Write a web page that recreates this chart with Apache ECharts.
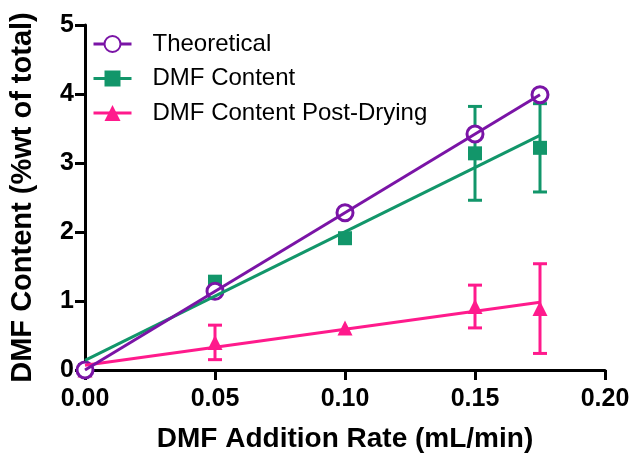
<!DOCTYPE html>
<html><head><meta charset="utf-8">
<script src="https://cdn.jsdelivr.net/npm/echarts@6/dist/echarts.min.js"></script>
<style>html,body{margin:0;padding:0;background:#fff}#c{width:635px;height:458px}</style>
</head><body><div id="c"></div>
<script>
var rates = [0, 0.05, 0.10, 0.15, 0.175];
var theoretical = [0, 1.14, 2.28, 3.42, 3.99];
var dmfContent = [0, 1.28, 1.91, 3.14, 3.22];
var dmfContentErr = [0, 0, 0, 0.68, 0.64];
var postDrying = [0, 0.40, 0.61, 0.92, 0.89];
var postDryingErr = [0, 0.25, 0, 0.31, 0.65];
var xTicks = [0, 0.05, 0.10, 0.15, 0.20];
var yTicks = [0, 1, 2, 3, 4, 5];

var names = ['Theoretical', 'DMF Content', 'DMF Content Post-Drying'];
var colors = ['#7A14A6', '#12966A', '#FF1A8C'];

function fit(xs, ys) {
  var n = xs.length, mx = 0, my = 0;
  for (var i = 0; i < n; i++) { mx += xs[i]; my += ys[i]; }
  mx /= n; my /= n;
  var sxy = 0, sxx = 0;
  for (var j = 0; j < n; j++) { sxy += (xs[j]-mx)*(ys[j]-my); sxx += (xs[j]-mx)*(xs[j]-mx); }
  var b = sxy / sxx, a = my - b*mx;
  var x0 = Math.min.apply(null, xs), x1 = Math.max.apply(null, xs);
  return [[x0, a + b*x0], [x1, a + b*x1]];
}
function pts(ys) { return rates.map(function (x, i) { return [x, ys[i]]; }); }
function errData(ys, es) {
  var out = [];
  rates.forEach(function (x, i) { if (es[i] > 0) out.push([x, ys[i]-es[i], ys[i]+es[i]]); });
  return out;
}
function errSeries(data, color) {
  return {
    type: 'custom', silent: true, z: 2, clip: false,
    data: data,
    renderItem: function (params, api) {
      var lo = api.coord([api.value(0), api.value(1)]);
      var hi = api.coord([api.value(0), api.value(2)]);
      var w = 7;
      var st = { stroke: color, lineWidth: 3 };
      return { type: 'group', children: [
        { type: 'line', shape: { x1: lo[0], y1: lo[1], x2: hi[0], y2: hi[1] }, style: st },
        { type: 'line', shape: { x1: lo[0]-w, y1: lo[1], x2: lo[0]+w, y2: lo[1] }, style: st },
        { type: 'line', shape: { x1: hi[0]-w, y1: hi[1], x2: hi[0]+w, y2: hi[1] }, style: st }
      ]};
    }
  };
}
function fitSeries(xs, ys, color, z) {
  return { type: 'line', data: fit(xs, ys), symbol: 'none', silent: true, z: z,
    lineStyle: { color: color, width: 3 } };
}
function pointSeries(name, ys, color, symbol, size, z, hollow) {
  return {
    name: name, type: 'line', data: pts(ys), symbol: symbol, symbolSize: size, z: z,
    showAllSymbol: true, clip: false,
    lineStyle: { color: color, width: 3, opacity: 0 },
    itemStyle: hollow ? { color: '#fff', borderColor: color, borderWidth: 3 } : { color: color, borderWidth: 0 }
  };
}

var FONT = 'Liberation Sans, Arial, sans-serif';
var axisFont = { fontFamily: FONT, fontWeight: 'bold', fontSize: 25, color: '#000' };
var chart = echarts.init(document.getElementById('c'));
chart.setOption({
  animation: false,
  backgroundColor: '#fff',
  grid: { left: 83, right: 30, top: 25, bottom: 84, containLabel: false },
  legend: {
    data: names, left: 87, top: 27, orient: 'vertical',
    itemWidth: 38, itemHeight: 20, itemGap: 10.5,
    lineStyle: { opacity: 1, width: 3 },
    textStyle: { fontFamily: FONT, fontSize: 24, lineHeight: 20, color: '#000', padding: [0, 0, 0, 16] }
  },
  xAxis: {
    type: 'value', min: xTicks[0], max: xTicks[xTicks.length-1], interval: 0.05,
    name: 'DMF Addition Rate (mL/min)', nameLocation: 'middle', nameGap: 55,
    nameTextStyle: { fontFamily: FONT, fontWeight: 'bold', fontSize: 28, color: '#000' },
    axisLine: { onZero: false, lineStyle: { color: '#000', width: 3 } },
    axisTick: { show: true, inside: false, length: 10, lineStyle: { color: '#000', width: 3 } },
    axisLabel: Object.assign({ margin: 17, formatter: function (v) { return v.toFixed(2); } }, axisFont),
    splitLine: { show: false }
  },
  yAxis: {
    type: 'value', min: yTicks[0], max: yTicks[yTicks.length-1], interval: 1,
    name: 'DMF Content (%wt of total)', nameLocation: 'middle', nameGap: 48,
    nameTextStyle: { fontFamily: FONT, fontWeight: 'bold', fontSize: 29, color: '#000' },
    axisLine: { show: true, onZero: false, lineStyle: { color: '#000', width: 3 } },
    axisTick: { show: true, inside: false, length: 10, lineStyle: { color: '#000', width: 3 } },
    axisLabel: Object.assign({ margin: 11 }, axisFont),
    splitLine: { show: false }
  },
  series: [
    pointSeries(names[0], theoretical, colors[0], 'circle', 16, 10, true),
    pointSeries(names[1], dmfContent, colors[1], 'rect', 14, 8, false),
    pointSeries(names[2], postDrying, colors[2], 'triangle', 15, 6, false),
    fitSeries(rates, theoretical, colors[0], 13),
    fitSeries(rates, dmfContent, colors[1], 12),
    fitSeries(rates, postDrying, colors[2], 11),
    errSeries(errData(dmfContent, dmfContentErr), colors[1]),
    errSeries(errData(postDrying, postDryingErr), colors[2])
  ]
});
</script>
</body></html>
